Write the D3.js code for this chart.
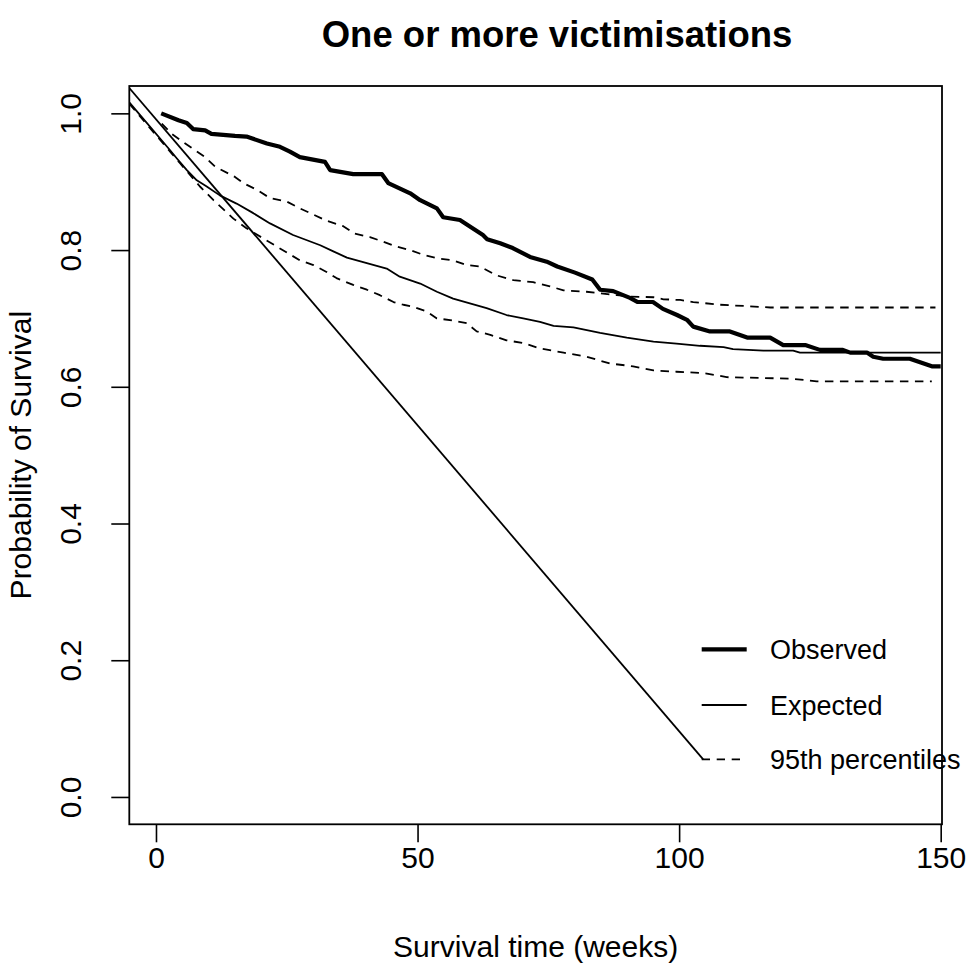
<!DOCTYPE html>
<html>
<head>
<meta charset="utf-8">
<script src="https://cdn.jsdelivr.net/npm/d3@7"></script>
<style>
  body { margin: 0; background: #fff; }
  text { font-family: "Liberation Sans", Arial, sans-serif; fill: #000; }
</style>
</head>
<body>
<svg id="chart" width="969" height="966"></svg>
<script>
// values (weeks, survival probability)
var obsTime = [1, 4.3, 5.9, 7.1, 9.4, 10.6, 15.1, 17.3, 21.2, 23.7, 25.6, 27.5, 32.3, 33.3, 37.7, 43.2, 44.4, 48.6, 50.5, 53.7, 54.9, 58.1, 62.5, 63.3, 65.8, 68.2, 71.5, 74.7, 76.7, 80.1, 83.4, 84.9, 87.4, 90.6, 92.1, 95.0, 96.9, 99.6, 101.5, 102.7, 105.9, 109.7, 113, 117.4, 119.9, 124.1, 126.9, 131.3, 132.7, 135.9, 137.1, 139, 144.1, 148.3, 150];
var obsSurv = [1.0, 0.990, 0.986, 0.977, 0.975, 0.970, 0.967, 0.966, 0.956, 0.951, 0.944, 0.936, 0.929, 0.917, 0.911, 0.911, 0.898, 0.883, 0.873, 0.861, 0.848, 0.844, 0.822, 0.816, 0.810, 0.803, 0.790, 0.783, 0.776, 0.767, 0.757, 0.742, 0.740, 0.730, 0.724, 0.724, 0.714, 0.705, 0.698, 0.688, 0.681, 0.681, 0.672, 0.672, 0.661, 0.661, 0.654, 0.654, 0.650, 0.650, 0.644, 0.641, 0.641, 0.630, 0.630];

var expTime = [-5.1, 2.7, 4.0, 5.9, 7.8, 9.7, 12.2, 15.4, 18.6, 21.8, 26.2, 31.4, 33.9, 36.5, 40.3, 44.1, 46.6, 50.5, 53.7, 56.8, 60, 63.2, 67, 70.2, 73.4, 76, 79.8, 84.9, 90, 95.1, 99.5, 104, 108.5, 110.3, 116.1, 121.8, 123.1, 150];
var expSurv = [1.016, 0.946, 0.934, 0.917, 0.902, 0.893, 0.880, 0.868, 0.854, 0.839, 0.822, 0.807, 0.798, 0.789, 0.781, 0.773, 0.761, 0.751, 0.739, 0.729, 0.722, 0.715, 0.705, 0.700, 0.695, 0.689, 0.687, 0.679, 0.672, 0.666, 0.663, 0.660, 0.658, 0.655, 0.653, 0.653, 0.650, 0.650];

var upTime = [1.1, 3, 5.2, 7.5, 9.4, 11.3, 15.1, 16.7, 19.3, 21.8, 25, 27.5, 32.6, 35.8, 38, 40.9, 43.5, 46, 48.6, 51.1, 53.7, 56.8, 59.4, 61.9, 65.1, 68.3, 72.1, 75.3, 77.9, 82.3, 88.1, 90.6, 95.1, 97, 100.2, 102.7, 107.8, 112.9, 117.4, 149];
var upSurv = [0.985, 0.970, 0.958, 0.946, 0.936, 0.922, 0.907, 0.898, 0.888, 0.876, 0.871, 0.861, 0.843, 0.835, 0.824, 0.819, 0.812, 0.805, 0.800, 0.793, 0.788, 0.785, 0.778, 0.776, 0.763, 0.756, 0.753, 0.747, 0.741, 0.739, 0.734, 0.732, 0.731, 0.728, 0.727, 0.724, 0.720, 0.718, 0.716, 0.716];

var loTime = [-5.1, 2.7, 4.6, 8.4, 11, 14.8, 17.3, 20.5, 27.5, 30.1, 32.6, 34.5, 37.7, 40.3, 42.8, 45.4, 47.3, 49.2, 51.8, 53.7, 56.8, 59.4, 61.3, 63.9, 67, 70.2, 73.4, 77.9, 82.3, 86.8, 91.2, 95.1, 99.5, 104.6, 107.8, 109.1, 121.2, 126.3, 148.3];
var loSurv = [1.014, 0.944, 0.927, 0.893, 0.873, 0.846, 0.832, 0.817, 0.785, 0.778, 0.768, 0.759, 0.749, 0.742, 0.734, 0.724, 0.720, 0.717, 0.710, 0.700, 0.697, 0.693, 0.681, 0.676, 0.668, 0.664, 0.656, 0.650, 0.644, 0.634, 0.630, 0.624, 0.622, 0.620, 0.616, 0.614, 0.612, 0.608, 0.608];

// stray straight line running down to the legend
var diagTime = [-5.1, 104.6];
var diagSurv = [1.037, 0.055];

var xTicks = [0, 50, 100, 150];
var yTicks = [0, 0.2, 0.4, 0.6, 0.8, 1.0];
var legendLabels = ["Observed", "Expected", "95th percentiles"];

var svg = d3.select("#chart");
var pLeft = 129.3, pRight = 942, pTop = 86, pBottom = 824.3;

var x = d3.scaleLinear().domain([-5.1, 150.25]).range([pLeft, pRight]);
var y = d3.scaleLinear().domain([-0.04, 1.04]).range([pBottom, pTop]);

svg.append("clipPath").attr("id", "plotclip")
  .append("rect").attr("x", pLeft).attr("y", pTop)
  .attr("width", pRight - pLeft).attr("height", pBottom - pTop);

var zip = function(ts, ss) { return ts.map(function(t, i) { return [t, ss[i]]; }); };
var line = d3.line().x(function(d) { return x(d[0]); }).y(function(d) { return y(d[1]); });

var plot = svg.append("g").attr("clip-path", "url(#plotclip)");
var series = [
  { pts: zip(diagTime, diagSurv), w: 1.8, dash: null },
  { pts: zip(expTime, expSurv), w: 1.8, dash: null },
  { pts: zip(upTime, upSurv), w: 1.8, dash: "8.5,6.5" },
  { pts: zip(loTime, loSurv), w: 1.8, dash: "8.5,6.5" },
  { pts: zip(obsTime, obsSurv), w: 4.2, dash: null }
];
series.forEach(function(s) {
  plot.append("path").datum(s.pts)
    .attr("d", line)
    .attr("fill", "none")
    .attr("stroke", "#000")
    .attr("stroke-width", s.w)
    .attr("stroke-linejoin", "round")
    .attr("stroke-dasharray", s.dash);
});

// axes
var xAxis = svg.append("g").attr("transform", "translate(0," + pBottom + ")")
  .call(d3.axisBottom(x).tickValues(xTicks).tickSize(18).tickPadding(4).tickSizeOuter(0));
xAxis.select(".domain").remove();
xAxis.selectAll("line").attr("stroke-width", 1.6);
xAxis.selectAll("text").style("font-size", "30px").attr("font-family", null);

var yAxis = svg.append("g").attr("transform", "translate(" + pLeft + ",0)")
  .call(d3.axisLeft(y).tickValues(yTicks).tickFormat(d3.format(".1f")).tickSize(18).tickSizeOuter(0));
yAxis.select(".domain").remove();
yAxis.selectAll("line").attr("stroke-width", 1.6);
yAxis.selectAll("text")
  .style("font-size", "30px")
  .attr("x", null).attr("dy", null)
  .attr("text-anchor", "middle")
  .attr("transform", "translate(-48,0) rotate(-90)");
yAxis.attr("font-family", null);

svg.append("rect")
  .attr("x", pLeft).attr("y", pTop)
  .attr("width", pRight - pLeft).attr("height", pBottom - pTop)
  .attr("fill", "none").attr("stroke", "#000").attr("stroke-width", 1.8);

// titles
svg.append("text").attr("x", 557).attr("y", 47)
  .attr("text-anchor", "middle").style("font-size", "36.5px").style("font-weight", "bold")
  .text("One or more victimisations");
svg.append("text").attr("x", (pLeft + pRight) / 2).attr("y", 957)
  .attr("text-anchor", "middle").style("font-size", "30px")
  .text("Survival time (weeks)");
svg.append("text").attr("transform", "translate(31," + ((pTop + pBottom) / 2) + ") rotate(-90)")
  .attr("text-anchor", "middle").style("font-size", "30px")
  .text("Probability of Survival");

// legend
var legY = [649.3, 705, 759.3];
var legStyles = [{ w: 4.2, dash: null }, { w: 1.8, dash: null }, { w: 1.8, dash: "8.3,6.7" }];
var leg = svg.append("g");
legendLabels.forEach(function(lab, i) {
  leg.append("line").attr("x1", 701.7).attr("x2", 746.7)
    .attr("y1", legY[i]).attr("y2", legY[i])
    .attr("stroke", "#000").attr("stroke-width", legStyles[i].w)
    .attr("stroke-dasharray", legStyles[i].dash);
  leg.append("text").attr("x", 770).attr("y", legY[i] + 9.5)
    .style("font-size", "27px").text(lab);
});
</script>
</body>
</html>
